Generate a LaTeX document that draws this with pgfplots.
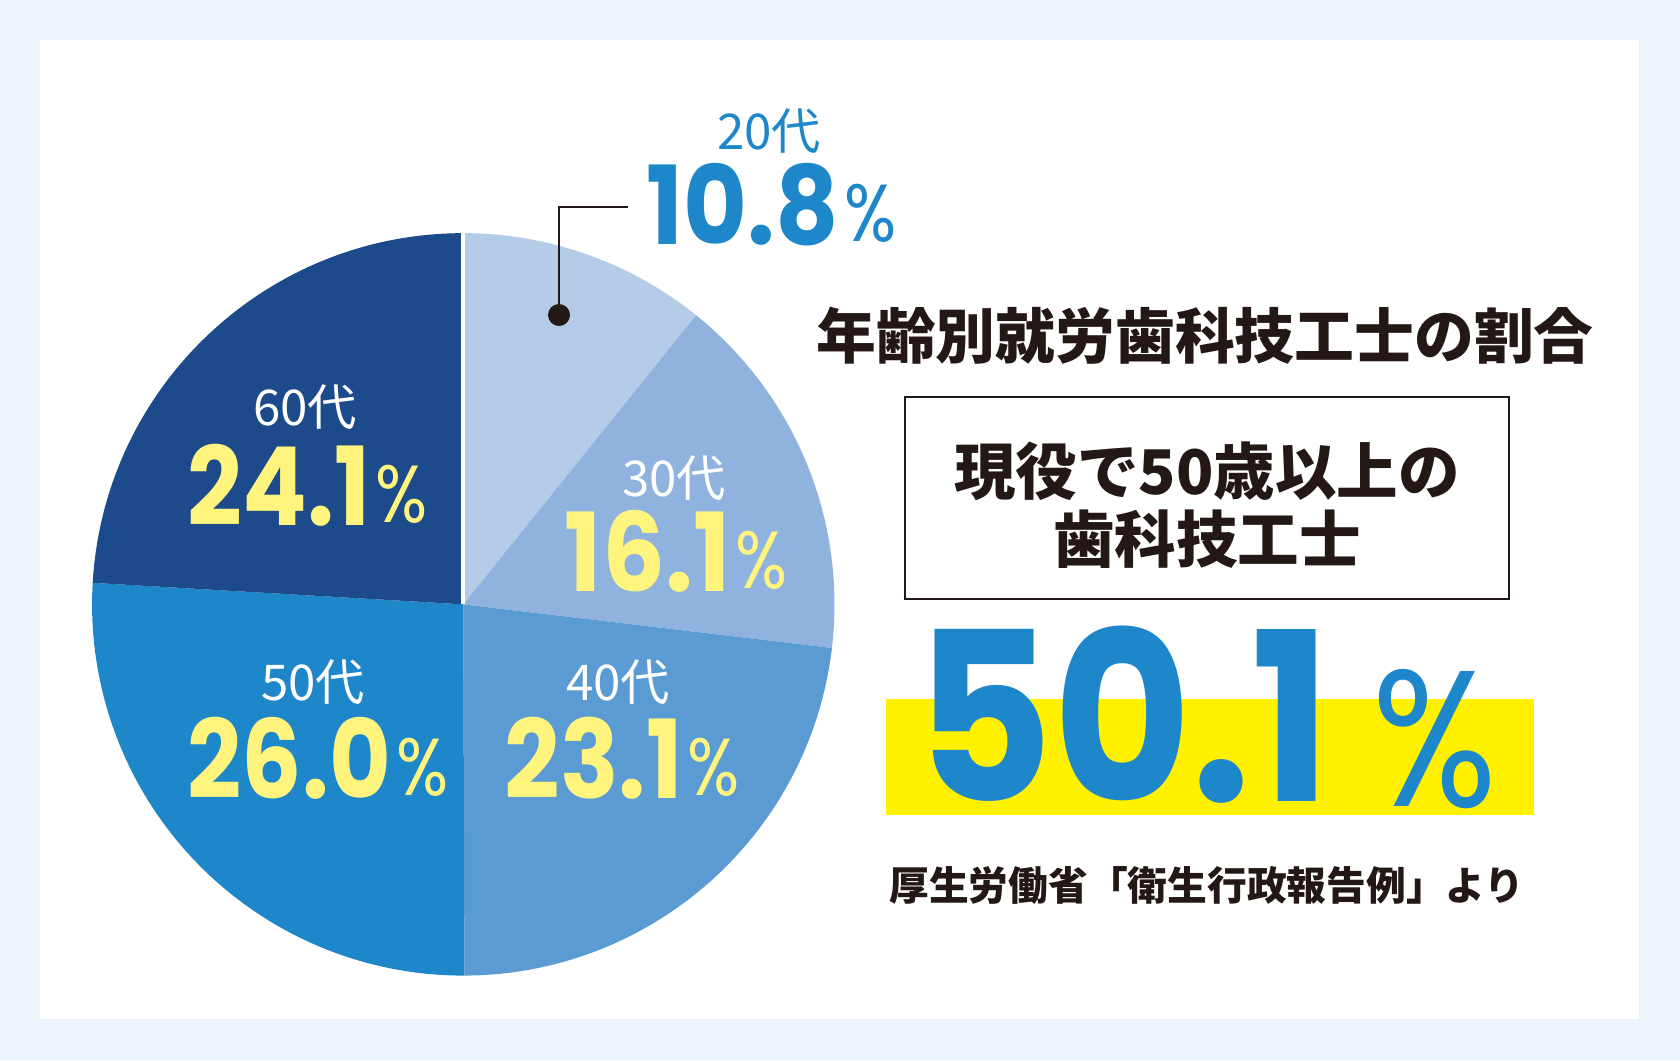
\documentclass[border=0pt]{standalone}
\usepackage{fontspec}
\usepackage{graphicx}
\usepackage{pgfplots}
\usepackage{pgfplotstable}
\pgfplotsset{compat=1.18}
\newfontfamily\jp{Noto Sans CJK JP}
\newfontfamily\num{Poppins}
\definecolor{bgout}{HTML}{EBF4FC}
\definecolor{c20}{HTML}{B5CCE9}
\definecolor{c30}{HTML}{8FB3DE}
\definecolor{c40}{HTML}{5B9BD3}
\definecolor{c50}{HTML}{1E87C9}
\definecolor{c60}{HTML}{1C4A8B}
\definecolor{yel}{HTML}{FFF47E}
\definecolor{hilite}{HTML}{FFF100}
\definecolor{ink}{HTML}{231815}
\newcommand\fs[1]{\fontsize{#1}{#1}\selectfont}

\pgfplotstableread{
age value
20 10.8
30 16.1
40 23.1
50 26.0
60 24.1
}\piedata

% slice drawer (angles computed below)
\newcommand\slice[2]{%
  \fill[#2] (axis cs:0,0) -- ++(\csname sa#1\endcsname:3.71cm)
    arc[start angle=\csname sa#1\endcsname, end angle=\csname ea#1\endcsname, radius=3.71cm] -- cycle;}

% small label: digits + %
\newcommand\pct[4]{% #1 color, #2 number, #3 size, #4 xscale
  {\color{#1}\scalebox{#4}[1]{\num\bfseries\fs{#3}#2}\hspace{1.5pt}\raisebox{0.8pt}{\scalebox{0.85}[1]{\num\fs{23}\%}}}}

\begin{document}
\begin{tikzpicture}[x=0.01cm,y=-0.01cm]
\fill[bgout] (0,0) rectangle (1680,1060);
\fill[white] (40,40) rectangle (1639,1019);

% cumulative angles from the table
\def\tot{0}
\pgfplotsforeachungrouped \i in {0,...,4}{%
  \pgfplotstablegetelem{\i}{value}\of\piedata
  \pgfmathsetmacro{\tmp}{\tot+\pgfplotsretval}%
  \xdef\tot{\tmp}}
\def\cum{90}
\pgfplotsforeachungrouped \i in {0,...,4}{%
  \pgfplotstablegetelem{\i}{value}\of\piedata
  \pgfmathsetmacro{\nxt}{\cum-\pgfplotsretval*360/\tot}%
  \expandafter\xdef\csname sa\i\endcsname{\cum}%
  \expandafter\xdef\csname ea\i\endcsname{\nxt}%
  \xdef\cum{\nxt}}

\begin{axis}[at={(4.63cm,-6.04cm)}, anchor=center, hide axis, scale only axis,
  width=7.4cm, height=7.4cm, xmin=-1, xmax=1, ymin=-1, ymax=1, clip=false]
  \slice{0}{c20}
  \slice{1}{c30}
  \slice{2}{c40}
  \slice{3}{c50}
  \slice{4}{c60}
  \draw[white, line width=1.1pt] (axis cs:0,0) -- (axis cs:0,1.01);
\end{axis}

% leader for 20s
\draw[ink, line width=0.6pt] (628,207) -- (559,207) -- (559,315);
\fill[ink] (559,315) circle[radius=0.11cm];

% slice labels
\node[c50] at (769,131) {\jp\fs{14}20代};
\node[anchor=base west, inner sep=0] at (646,244) {\pct{c50}{10.8}{31}{0.9}};
\node[white] at (674,478) {\jp\fs{14}30代};
\node[anchor=base west, inner sep=0] at (564,591) {\pct{yel}{16.1}{31}{0.91}};
\node[white] at (618,682) {\jp\fs{14}40代};
\node[anchor=base west, inner sep=0] at (504,798) {\pct{yel}{23.1}{31}{0.89}};
\node[white] at (313,682) {\jp\fs{14}50代};
\node[anchor=base west, inner sep=0] at (187,798) {\pct{yel}{26.0}{31}{0.87}};
\node[white] at (305,407) {\jp\fs{14}60代};
\node[anchor=base west, inner sep=0] at (187,525) {\pct{yel}{24.1}{31}{0.88}};

% right panel
\node[ink] at (1205,336) {\jp\bfseries\fs{17}年齢別就労歯科技工士の割合};
\draw[ink, line width=0.6pt] (905,397) rectangle (1509,599);
\node[ink] at (1207,471) {\jp\bfseries\fs{17.5}現役で50歳以上の};
\node[ink] at (1207,539) {\jp\bfseries\fs{17.5}歯科技工士};
\fill[hilite] (886,699) rectangle (1534,815);
\node[anchor=base west, inner sep=0, c50] at (915,801) {\scalebox{0.9}[1]{\num\bfseries\fs{67}50.1}};
\node[anchor=base west, inner sep=0, c50] at (1372,806) {\scalebox{0.85}[1]{\num\fs{55}\%}};
\node[ink] at (1207,885) {\jp\bfseries\fs{11.3}厚生労働省「衛生行政報告例」より};
\end{tikzpicture}
\end{document}
